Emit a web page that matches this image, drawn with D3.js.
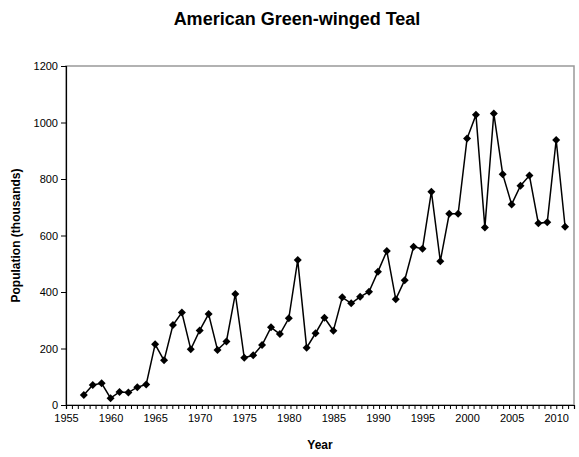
<!DOCTYPE html>
<html>
<head>
<meta charset="utf-8">
<script src="https://cdn.jsdelivr.net/npm/d3@7"></script>
<style>
  body { margin: 0; background: #fff; }
  text { font-family: "Liberation Sans", Arial, sans-serif; }
</style>
</head>
<body>
<div id="chart"></div>
<script>
// data
var years = [1957, 1958, 1959, 1960, 1961, 1962, 1963, 1964, 1965, 1966,
             1967, 1968, 1969, 1970, 1971, 1972, 1973, 1974, 1975, 1976,
             1977, 1978, 1979, 1980, 1981, 1982, 1983, 1984, 1985, 1986,
             1987, 1988, 1989, 1990, 1991, 1992, 1993, 1994, 1995, 1996,
             1997, 1998, 1999, 2000, 2001, 2002, 2003, 2004, 2005, 2006,
             2007, 2008, 2009, 2010, 2011];
var population = [35, 71, 77, 24, 46, 44, 63, 73, 215, 158,
                  283, 327, 197, 264, 322, 195, 225, 393, 167, 176,
                  212, 275, 251, 307, 513, 203, 254, 309, 263, 381,
                  360, 383, 401, 472, 545, 374, 442, 560, 553, 755,
                  509, 677, 677, 943, 1027, 628, 1032, 817, 710, 776,
                  812, 643, 647, 938, 631];
var xTickLabels = [1955, 1960, 1965, 1970, 1975, 1980, 1985, 1990, 1995, 2000, 2005, 2010];
var yTickLabels = [0, 200, 400, 600, 800, 1000, 1200];

var w = 579;
var h = 457;
// plot area edges (note: "top" is taken by window.top)
var plotL = 66, plotR = 574, plotT = 66, plotB = 405;

var svg = d3.select("#chart")
            .append("svg")
            .attr("width", w)
            .attr("height", h);

var x = d3.scaleLinear().domain([1955, 2012]).range([plotL, plotR]);
var y = d3.scaleLinear().domain([0, 1200]).range([plotB, plotT]);

// plot area border (grey)
svg.append("rect")
   .attr("x", plotL)
   .attr("y", plotT)
   .attr("width", plotR - plotL)
   .attr("height", plotB - plotT)
   .attr("fill", "none")
   .attr("stroke", "#999")
   .attr("stroke-width", 1.5);

// y axis
svg.append("g")
   .attr("transform", "translate(" + plotL + ",0)")
   .call(d3.axisLeft(y).tickValues(yTickLabels).tickSize(5).tickPadding(3).tickFormat(d3.format("d")));

// x axis: minor ticks plus labels
var minorTicks = d3.range(0, 87).map(function(i) { return 1955 + i * 57 / 86; });
svg.append("g")
   .attr("transform", "translate(0," + plotB + ")")
   .call(d3.axisBottom(x).tickValues(minorTicks).tickSize(4).tickFormat(""));

svg.append("g")
   .attr("transform", "translate(0," + plotB + ")")
   .call(d3.axisBottom(x).tickValues(xTickLabels).tickSize(0).tickPadding(9).tickFormat(d3.format("d")))
   .select(".domain").remove();

svg.selectAll(".domain").attr("stroke", "#000").attr("stroke-width", 1.2);
svg.selectAll(".tick line").attr("stroke", "#000");
svg.selectAll(".tick text")
   .attr("font-family", "Liberation Sans, Arial, sans-serif")
   .attr("font-size", "11px")
   .attr("fill", "#000");

// line
var points = years.map(function(d, i) { return [d, population[i]]; });
svg.append("path")
   .datum(points)
   .attr("fill", "none")
   .attr("stroke", "#000")
   .attr("stroke-width", 1.5)
   .attr("d", d3.line()
     .x(function(d) { return x(d[0]); })
     .y(function(d) { return y(d[1]); }));

// diamond markers
svg.selectAll(".marker")
   .data(points)
   .enter()
   .append("path")
   .attr("class", "marker")
   .attr("d", d3.symbol().type(d3.symbolSquare).size(32))
   .attr("transform", function(d) {
       return "translate(" + x(d[0]) + "," + y(d[1]) + ") rotate(45)";
   })
   .attr("fill", "#000");

// title and axis labels
svg.append("text")
   .text("American Green-winged Teal")
   .attr("x", 297)
   .attr("y", 25)
   .attr("text-anchor", "middle")
   .attr("font-size", "18px")
   .attr("font-weight", "bold");

svg.append("text")
   .text("Year")
   .attr("x", (plotL + plotR) / 2)
   .attr("y", 449)
   .attr("text-anchor", "middle")
   .attr("font-size", "12px")
   .attr("font-weight", "bold");

svg.append("text")
   .text("Population (thousands)")
   .attr("transform", "translate(20," + ((plotT + plotB) / 2) + ") rotate(-90)")
   .attr("text-anchor", "middle")
   .attr("font-size", "12px")
   .attr("font-weight", "bold");
</script>
</body>
</html>
